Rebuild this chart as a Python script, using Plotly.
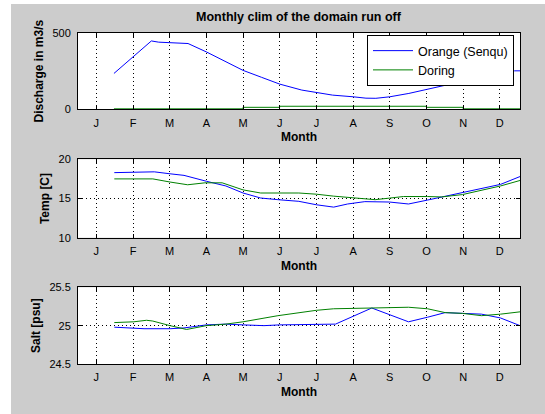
import plotly.graph_objects as go
from plotly.subplots import make_subplots

# ---- data ----
month_ticks = [1, 2, 3, 4, 5, 6, 7, 8, 9, 10, 11, 12]
month_labels = ["J", "F", "M", "A", "M", "J", "J", "A", "S", "O", "N", "D"]

# Discharge (m3/s)
q_orange_x = [1.48, 2.0, 2.5, 2.7, 3.5, 4.0, 4.5, 5.0, 5.5, 6.0, 6.6, 7.0, 7.44, 8.0,
              8.35, 8.62, 9.0, 9.52, 10.0, 10.53, 10.9, 11.5, 12.0, 12.4, 12.55]
q_orange = [235, 343, 448, 440, 431, 376, 315, 255, 210, 165, 126, 111, 93, 82,
            73, 72, 82, 104, 130, 159, 180, 212, 238, 252, 252]
q_doring_x = [1.48, 5.0, 5.0, 6.0, 6.0, 10.0, 10.0, 11.0, 11.0, 12.55]
q_doring = [3, 3, 13, 13, 20, 20, 13, 13, 3, 3]

# Temperature (C)
t_orange_x = [1.49, 2.3, 2.58, 3.01, 3.39, 4.0, 4.53, 5.0, 5.48, 5.95, 6.52, 7.0, 7.47,
              7.85, 8.32, 8.99, 9.51, 10.03, 10.98, 12.02, 12.55]
t_orange = [18.3, 18.4, 18.4, 18.15, 17.95, 17.2, 16.6, 15.7, 15.06, 14.85, 14.64, 14.2, 13.9,
            14.3, 14.6, 14.55, 14.3, 14.8, 15.8, 16.8, 17.8]
t_doring_x = [1.49, 2.54, 3.01, 3.49, 3.96, 4.43, 5.0, 5.48, 6.52, 7.0, 7.47, 8.04, 8.6,
              8.99, 9.37, 10.03, 10.41, 10.98, 12.02, 12.55]
t_doring = [17.5, 17.5, 17.1, 16.75, 17.0, 17.0, 16.1, 15.7, 15.7, 15.55, 15.3, 15.05, 14.85,
            15.05, 15.25, 15.25, 15.2, 15.5, 16.6, 17.3]

# Salinity (psu)
s_orange_x = [1.49, 2.02, 2.3, 3.01, 3.39, 4.0, 4.53, 5.0, 5.57, 6.0, 7.0, 7.52, 8.51,
              9.51, 10.03, 10.51, 10.98, 11.5, 12.02, 12.55]
s_orange = [24.98, 24.97, 24.96, 24.96, 24.97, 25.01, 25.02, 25.01, 25.0, 25.01, 25.02, 25.02, 25.23,
            25.05, 25.11, 25.17, 25.16, 25.15, 25.1, 25.0]
s_doring_x = [1.49, 2.02, 2.37, 2.54, 3.01, 3.46, 4.0, 4.53, 5.0, 5.95, 7.0, 7.47, 8.51,
              9.51, 10.03, 10.51, 10.98, 11.5, 12.02, 12.55]
s_doring = [25.04, 25.05, 25.07, 25.06, 25.0, 24.95, 25.0, 25.02, 25.05, 25.13, 25.2, 25.22, 25.23,
            25.24, 25.22, 25.17, 25.16, 25.13, 25.15, 25.18]

series_names = ["Orange (Senqu)", "Doring"]
colors = ["#0000ff", "#008000"]

FONT = "Liberation Sans, Arial, Helvetica, sans-serif"

fig = make_subplots(rows=3, cols=1)

panels = [
    (q_orange_x, q_orange, q_doring_x, q_doring),
    (t_orange_x, t_orange, t_doring_x, t_doring),
    (s_orange_x, s_orange, s_doring_x, s_doring),
]
for i, (xa, ya, xb, yb) in enumerate(panels):
    fig.add_trace(go.Scatter(x=xa, y=ya, mode="lines", name=series_names[0],
                             line=dict(color=colors[0], width=1),
                             showlegend=(i == 0)), row=i + 1, col=1)
    fig.add_trace(go.Scatter(x=xb, y=yb, mode="lines", name=series_names[1],
                             line=dict(color=colors[1], width=1),
                             showlegend=(i == 0)), row=i + 1, col=1)

W, H = 545, 414
L, R, T, B = 78, 25, 33, 50
pw, ph = W - L - R, H - T - B

def ydom(top_px, bot_px):
    return [(H - B - bot_px) / ph, (H - B - top_px) / ph]

domains = [ydom(33, 109.3), ydom(159.3, 237.7), ydom(287.3, 364)]
yranges = [[0, 500], [10, 20], [24.5, 25.5]]
ytickvals = [[0, 500], [10, 15, 20], [24.5, 25, 25.5]]
yticktext = [["0", "500"], ["10", "15", "20"], ["24.5", "25", "25.5"]]
ytitles = ["Discharge in m3/s", "Temp [C]", "Salt [psu]"]

axis_common = dict(
    showline=True, linecolor="black", linewidth=1, mirror="ticks",
    ticks="inside", ticklen=4, tickcolor="black", tickwidth=1,
    showgrid=True, gridcolor="black", gridwidth=1, griddash="1px,3px",
    zeroline=False, tickfont=dict(family=FONT, size=11, color="black"),
)

for i in range(3):
    fig.update_xaxes(
        range=[0.5, 12.55], tickvals=month_ticks, ticktext=month_labels,
        title=dict(text="<b>Month</b>", font=dict(family=FONT, size=12, color="black"), standoff=5),
        ticklabelstandoff=3,
        row=i + 1, col=1, **axis_common)
    fig.update_yaxes(
        range=yranges[i], tickvals=ytickvals[i], ticktext=yticktext[i], domain=domains[i],
        title=dict(text="<b>" + ytitles[i] + "</b>", font=dict(family=FONT, size=12, color="black"), standoff=6),
        ticklabelstandoff=4,
        row=i + 1, col=1, **axis_common)

fig.update_layout(
    width=W, height=H,
    margin=dict(l=L, r=R, t=T, b=B, pad=0),
    paper_bgcolor="#cccccc", plot_bgcolor="white",
    title=dict(text="<b>Monthly clim of the domain run off</b>", x=(298.5 - L) / pw, xref="paper",
               xanchor="center", y=1 - 16.7 / H, yref="container", yanchor="middle",
               font=dict(family=FONT, size=12.5, color="black")),
    legend=dict(x=(514 - L) / pw, xanchor="right", y=(H - B - 35) / ph, yanchor="top",
                bgcolor="white", bordercolor="black", borderwidth=1, tracegroupgap=0,
                font=dict(family=FONT, size=12.5, color="black"), itemwidth=40),
    showlegend=True,
    hovermode=False,
    shapes=[
        dict(type="rect", xref="paper", yref="paper", layer="above",
             x0=(0 - L) / pw, x1=(11 - L) / pw, y0=(H - B - H) / ph, y1=(H - B) / ph,
             fillcolor="white", line=dict(width=0)),
        dict(type="rect", xref="paper", yref="paper", layer="above",
             x0=(0 - L) / pw, x1=(W - L) / pw, y0=(H - B - 4) / ph, y1=(H - B) / ph,
             fillcolor="white", line=dict(width=0)),
    ],
)

fig.write_html("out.html", config={"displayModeBar": False},
               post_script="document.body.style.margin='0';document.body.style.overflow='hidden';")
